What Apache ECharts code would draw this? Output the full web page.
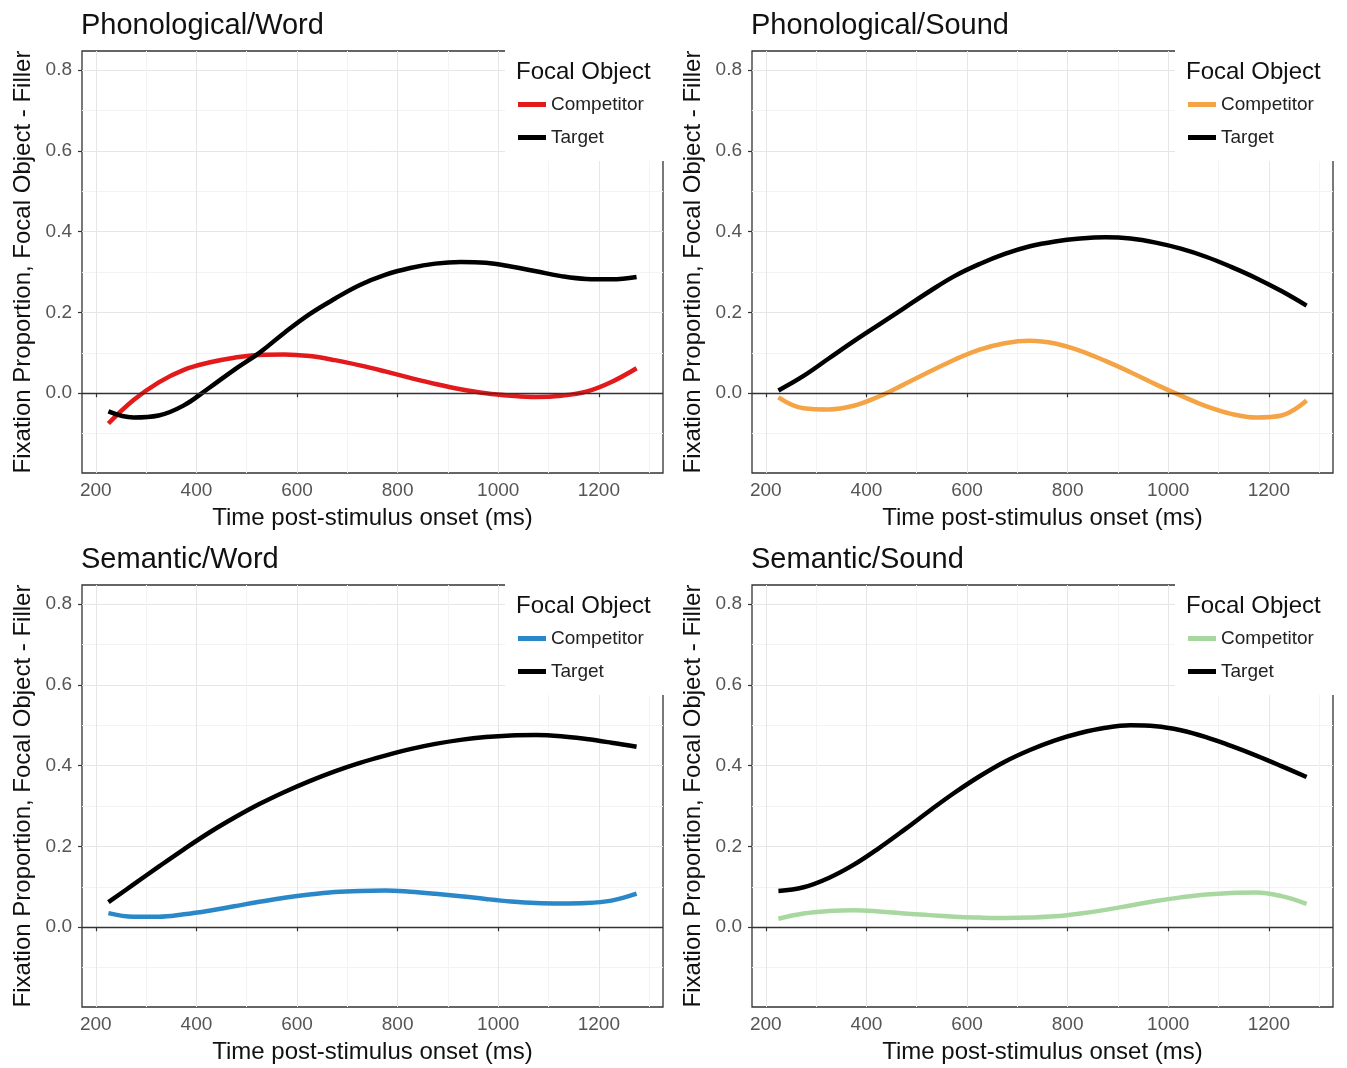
<!DOCTYPE html>
<html>
<head>
<meta charset="utf-8">
<script src="https://cdn.jsdelivr.net/npm/echarts@6/dist/echarts.min.js"></script>
<style>
html,body{margin:0;padding:0;background:#fff;}
#chart{width:1347px;height:1068px;}
</style>
</head>
<body>
<div id="chart"></div>
<script>
// ---- data ----
const timeMs = [225,275,325,375,425,475,525,575,625,675,725,775,825,875,925,975,1025,1075,1125,1175,1225,1275];
const panelTitles = ['Phonological/Word','Phonological/Sound','Semantic/Word','Semantic/Sound'];
const legendNames = ['Competitor','Target'];
const legendTitle = 'Focal Object';
const xAxisTitle = 'Time post-stimulus onset (ms)';
const yAxisTitle = 'Fixation Proportion, Focal Object - Filler';

const phonWordCompetitor = [-0.075,-0.017,0.027,0.058,0.076,0.088,0.095,0.096,0.092,0.082,0.069,0.054,0.038,0.023,0.010,0.000,-0.006,-0.009,-0.006,0.004,0.028,0.062];
const phonWordTarget     = [-0.045,-0.060,-0.055,-0.030,0.013,0.058,0.100,0.150,0.196,0.234,0.268,0.293,0.310,0.321,0.325,0.323,0.314,0.302,0.290,0.283,0.282,0.288];
const phonSoundCompetitor = [-0.010,-0.037,-0.040,-0.031,-0.008,0.022,0.053,0.083,0.108,0.124,0.130,0.123,0.105,0.080,0.052,0.022,-0.006,-0.032,-0.051,-0.060,-0.055,-0.018];
const phonSoundTarget     = [0.007,0.043,0.086,0.129,0.170,0.211,0.252,0.290,0.320,0.345,0.364,0.376,0.383,0.386,0.383,0.373,0.358,0.338,0.313,0.285,0.253,0.217];
const semWordCompetitor = [0.035,0.026,0.026,0.032,0.041,0.052,0.063,0.073,0.081,0.087,0.090,0.091,0.088,0.083,0.077,0.070,0.064,0.060,0.059,0.060,0.066,0.083];
const semWordTarget     = [0.062,0.106,0.150,0.193,0.234,0.271,0.305,0.335,0.362,0.386,0.407,0.425,0.441,0.454,0.464,0.471,0.475,0.476,0.473,0.466,0.457,0.447];
const semSoundCompetitor = [0.021,0.034,0.040,0.042,0.039,0.034,0.030,0.026,0.024,0.023,0.024,0.027,0.034,0.043,0.054,0.065,0.074,0.081,0.085,0.086,0.077,0.058];
const semSoundTarget     = [0.090,0.099,0.122,0.155,0.196,0.241,0.288,0.333,0.374,0.410,0.439,0.463,0.481,0.494,0.500,0.498,0.488,0.471,0.449,0.425,0.399,0.372];

const xTicks = [200,400,600,800,1000,1200];
const xMinorTicks = [300,500,700,900,1100,1300];
const yTicks = [0,0.2,0.4,0.6,0.8];
const yMinorTicks = [-0.1,0.1,0.3,0.5,0.7];

// ---- styling / layout ----
const competitorSeries = [phonWordCompetitor, phonSoundCompetitor, semWordCompetitor, semSoundCompetitor];
const targetSeries = [phonWordTarget, phonSoundTarget, semWordTarget, semSoundTarget];
const competitorColors = ['#e31a1c','#f5a445','#2b88c8','#a8d8a0'];
const targetColor = '#000000';
const X_MIN = 172.5, X_MAX = 1327.5, Y_MIN = -0.1975, Y_MAX = 0.8475;
const panelPos = [[82,51],[752,51],[82,585],[752,585]];
const GW = 581, GH = 422;
const FONT = '"Liberation Sans", Arial, sans-serif';

const grid = [], xAxis = [], yAxis = [], series = [], title = [], legend = [], graphic = [];

panelPos.forEach(([L, T], i) => {
  grid.push({left: L, top: T, width: GW, height: GH, show: true, borderColor: '#333', borderWidth: 1.3, backgroundColor: 'transparent', z: 0});
  xAxis.push({
    type: 'value', gridIndex: i, min: X_MIN, max: X_MAX,
    axisLine: {show: false},
    axisTick: {show: true, length: 4, customValues: xTicks, lineStyle: {color: '#333', width: 1.2}},
    axisLabel: {customValues: xTicks, fontSize: 19, color: '#555', margin: 8, fontFamily: FONT,
      formatter: v => String(v)},
    splitLine: {show: true, lineStyle: {color: '#e6e6e6', width: 1}},
    name: xAxisTitle, nameLocation: 'middle', nameGap: 33,
    nameTextStyle: {fontSize: 24, color: '#111', fontFamily: FONT}
  });
  xAxis.push({
    type: 'value', gridIndex: i, min: X_MIN, max: X_MAX,
    axisLine: {show: false}, axisLabel: {show: false},
    axisTick: {show: false, customValues: xMinorTicks},
    splitLine: {show: true, lineStyle: {color: '#f3f3f3', width: 1}}
  });
  yAxis.push({
    type: 'value', gridIndex: i, min: Y_MIN, max: Y_MAX,
    axisLine: {show: false},
    axisTick: {show: true, length: 4, customValues: yTicks, lineStyle: {color: '#333', width: 1.2}},
    axisLabel: {customValues: yTicks, fontSize: 19, color: '#555', margin: 10, fontFamily: FONT,
      formatter: v => Number(v).toFixed(1)},
    splitLine: {show: true, lineStyle: {color: '#e6e6e6', width: 1}},
    name: yAxisTitle, nameLocation: 'middle', nameGap: 47,
    nameTextStyle: {fontSize: 24, color: '#111', fontFamily: FONT}
  });
  yAxis.push({
    type: 'value', gridIndex: i, min: Y_MIN, max: Y_MAX,
    axisLine: {show: false}, axisLabel: {show: false},
    axisTick: {show: false, customValues: yMinorTicks},
    splitLine: {show: true, lineStyle: {color: '#f3f3f3', width: 1}}
  });

  const compName = legendNames[0] + '|' + i;
  const targName = legendNames[1] + '|' + i;
  series.push({
    name: compName, type: 'line', xAxisIndex: 2 * i, yAxisIndex: 2 * i,
    data: timeMs.map((t, k) => [t, competitorSeries[i][k]]),
    smooth: 0.4, showSymbol: false, symbol: 'none',
    lineStyle: {color: competitorColors[i], width: 4.5}, itemStyle: {color: competitorColors[i]},
    z: 3,
    markLine: {silent: true, symbol: 'none', label: {show: false}, animation: false,
      lineStyle: {color: '#333', width: 1.4, type: 'solid'}, data: [{yAxis: 0}]}
  });
  series.push({
    name: targName, type: 'line', xAxisIndex: 2 * i, yAxisIndex: 2 * i,
    data: timeMs.map((t, k) => [t, targetSeries[i][k]]),
    smooth: 0.4, showSymbol: false, symbol: 'none',
    lineStyle: {color: targetColor, width: 4.5}, itemStyle: {color: targetColor},
    z: 3
  });

  title.push({text: panelTitles[i], left: L - 1, top: T - 40, padding: 0,
    textStyle: {fontSize: 29, fontWeight: 'normal', color: '#111', fontFamily: FONT}});
  title.push({text: legendTitle, left: L + 434, top: T + 9, padding: 0, z: 20,
    textStyle: {fontSize: 24, fontWeight: 'normal', color: '#111', fontFamily: FONT}});
  legend.push({
    data: [compName, targName], orient: 'vertical', left: L + 436, top: T + 44, padding: 0,
    icon: 'rect', itemWidth: 28, itemHeight: 5, itemGap: 14, z: 20,
    selectedMode: false,
    formatter: n => n.split('|')[0],
    textStyle: {fontSize: 19, color: '#222', fontFamily: FONT}
  });
  graphic.push({type: 'rect', left: L + 423, top: T - 7, z: 10,
    shape: {width: 165, height: 117}, style: {fill: '#fff'}});
});

const chart = echarts.init(document.getElementById('chart'), null, {renderer: 'canvas'});
chart.setOption({
  backgroundColor: '#fff',
  animation: false,
  textStyle: {fontFamily: FONT},
  grid, xAxis, yAxis, series, title, legend,
  graphic: {elements: graphic}
});
</script>
</body>
</html>
